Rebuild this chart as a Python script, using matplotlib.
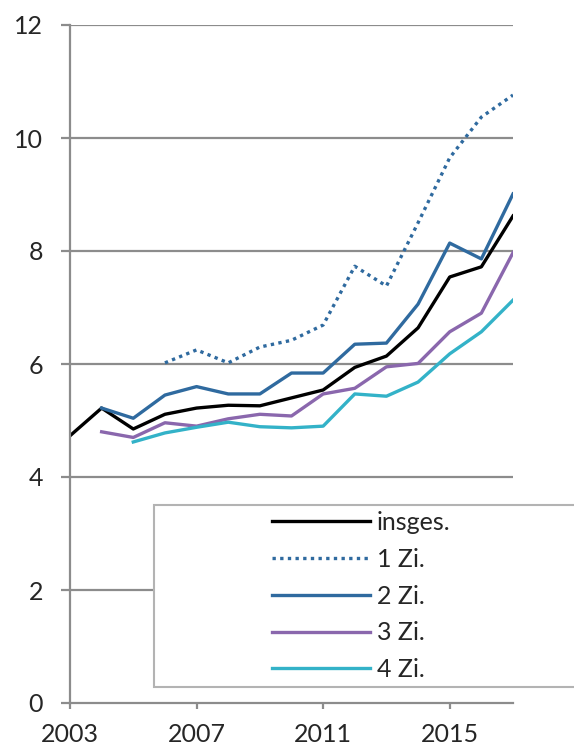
import numpy as np
import matplotlib
matplotlib.use("Agg")
import matplotlib.pyplot as plt
from matplotlib.patches import Rectangle

plt.rcParams['font.family'] = ['Lato', 'DejaVu Sans']

years = np.arange(2003, 2018)
nan = np.nan

# Werte je Wohnungsgroesse
insges = [4.73, 5.22, 4.85, 5.11, 5.22, 5.27, 5.26, 5.40, 5.54, 5.94, 6.14, 6.64, 7.54, 7.72, 8.62]
zi1 = [nan, nan, nan, 6.02, 6.25, 6.02, 6.30, 6.42, 6.69, 7.73, 7.38, 8.50, 9.65, 10.37, 10.76]
zi2 = [nan, 5.22, 5.04, 5.45, 5.60, 5.47, 5.47, 5.84, 5.84, 6.35, 6.37, 7.06, 8.14, 7.86, 9.01]
zi3 = [nan, 4.80, 4.70, 4.96, 4.90, 5.03, 5.11, 5.08, 5.47, 5.57, 5.95, 6.01, 6.57, 6.90, 7.97]
zi4 = [nan, nan, 4.62, 4.78, 4.88, 4.97, 4.89, 4.87, 4.90, 5.47, 5.43, 5.68, 6.18, 6.57, 7.13]

labels = ["insges.", "1 Zi.", "2 Zi.", "3 Zi.", "4 Zi."]
x_ticks = [2003, 2007, 2011, 2015]
y_ticks = [0, 2, 4, 6, 8, 10, 12]

blue = '#2f6a9f'
grey = '#8c8c8c'

fig = plt.figure(figsize=(5.74, 7.53), dpi=100)
ax = fig.add_axes([70 / 574, 50 / 753, (513 - 70) / 574, (703 - 25) / 753])

lw = 2.4
ax.plot(years, insges, color='black', lw=lw, label=labels[0])
ax.plot(years, zi1, color=blue, lw=lw, linestyle=(0, (1, 1.3)), dash_capstyle='butt', label=labels[1])
ax.plot(years, zi2, color=blue, lw=lw, label=labels[2])
ax.plot(years, zi3, color='#8a67ad', lw=lw, label=labels[3])
ax.plot(years, zi4, color='#33b2c8', lw=lw, label=labels[4])

ax.set_xlim(2003, 2017)
ax.set_ylim(0, 12)
ax.set_xticks(x_ticks)
ax.set_yticks(y_ticks)

# horizontale Gitterlinien
for y in y_ticks[1:]:
    ax.axhline(y, color=grey, lw=1.6, zorder=0)

for side in ['top', 'right']:
    ax.spines[side].set_visible(False)
for side in ['left', 'bottom']:
    ax.spines[side].set_color(grey)
    ax.spines[side].set_linewidth(1.6)

ax.tick_params(axis='y', length=6.5, width=1.6, color=grey, pad=13, labelsize=18, labelcolor='#262626')
ax.tick_params(axis='x', length=4.5, width=1.6, color=grey, pad=10, labelsize=18, labelcolor='#262626')

# Legendenrahmen, rechts angeschnitten
fig.add_artist(Rectangle((154 / 574, 1 - 687 / 753), (800 - 154) / 574, (687 - 505) / 753,
                         transform=fig.transFigure, facecolor='white', edgecolor='#b3b3b3',
                         lw=1.5, clip_on=False))

fig.legend(loc='center left', bbox_to_anchor=(272 / 574, 1 - 596 / 753), frameon=False,
           fontsize=18, handlelength=3.9, handletextpad=0.3, labelspacing=0.55, borderpad=0,
           borderaxespad=0, labelcolor='#262626')

plt.savefig('out.png', dpi=100)
plt.close()
